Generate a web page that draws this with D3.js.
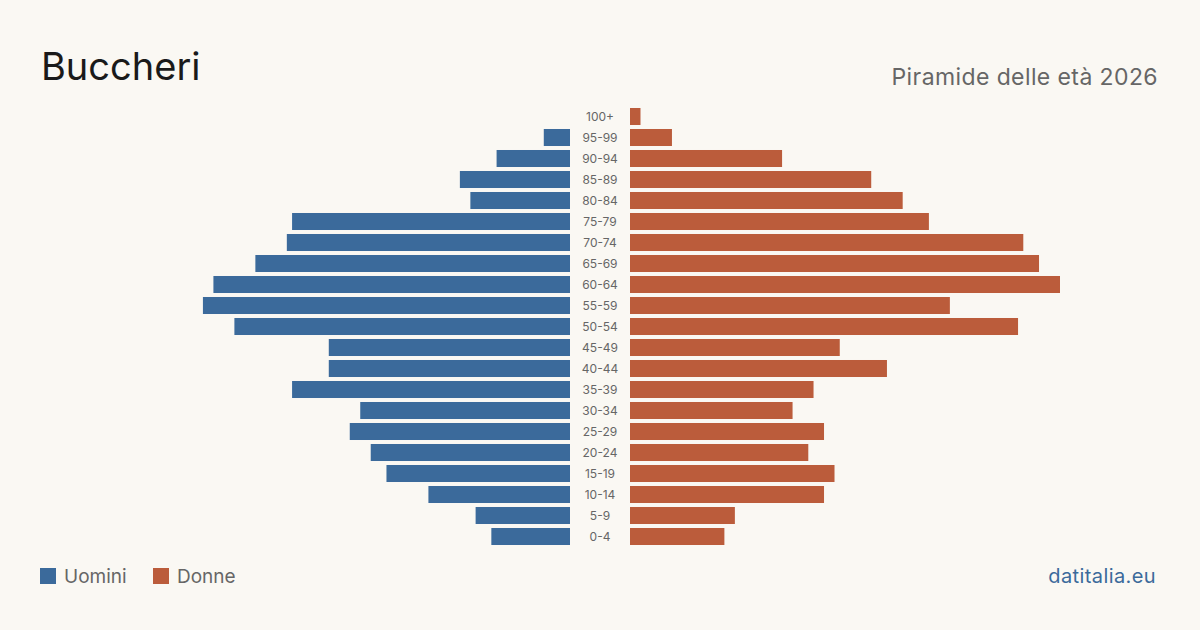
<!DOCTYPE html>
<html>
<head>
<meta charset="utf-8">
<script src="https://cdn.jsdelivr.net/npm/d3@7"></script>
<style>
  body { margin: 0; background: #faf8f3; }
  svg { display: block; font-family: Inter, "Noto Sans", sans-serif; }
</style>
</head>
<body>
<svg id="chart" width="1200" height="630"></svg>
<script>
var ages = ["100+","95-99","90-94","85-89","80-84","75-79","70-74","65-69","60-64","55-59","50-54","45-49","40-44","35-39","30-34","25-29","20-24","15-19","10-14","5-9","0-4"];
var uomini = [0,5,14,21,19,53,54,60,68,70,64,46,46,53,40,42,38,35,27,18,15];
var donne = [2,8,29,46,52,57,75,78,82,61,74,40,49,35,31,37,34,39,37,20,18];

var svg = d3.select("#chart");
svg.append("rect").attr("width", 1200).attr("height", 630).attr("fill", "#faf8f3");

var blue = "#3b6a9b", orange = "#bb5c3b";

var y = d3.scaleBand().domain(ages).range([106, 547]).paddingInner(0.19).paddingOuter(0.095);
var w = d3.scaleLinear().domain([0, 82]).range([0, 430]);

var leftEdge = 570, rightEdge = 630;

svg.selectAll(".m").data(ages).enter().append("rect")
  .attr("class", "m")
  .attr("x", function(d, i) { return leftEdge - w(uomini[i]); })
  .attr("y", function(d) { return y(d); })
  .attr("width", function(d, i) { return w(uomini[i]); })
  .attr("height", y.bandwidth())
  .attr("fill", blue);

svg.selectAll(".f").data(ages).enter().append("rect")
  .attr("class", "f")
  .attr("x", rightEdge)
  .attr("y", function(d) { return y(d); })
  .attr("width", function(d, i) { return w(donne[i]); })
  .attr("height", y.bandwidth())
  .attr("fill", orange);

svg.selectAll(".lab").data(ages).enter().append("text")
  .attr("class", "lab")
  .attr("x", 600)
  .attr("y", function(d) { return y(d) + y.bandwidth() / 2; })
  .attr("dy", "0.35em")
  .attr("text-anchor", "middle")
  .style("font-size", "12px")
  .attr("fill", "#666")
  .text(function(d) { return d; });

svg.append("text").attr("x", 41).attr("y", 80).text("Buccheri")
  .style("font-size", "38px").attr("fill", "#1a1a1a");
svg.append("text").attr("x", 1158).attr("y", 85).attr("text-anchor", "end")
  .text("Piramide delle età 2026").style("font-size", "23px").style("letter-spacing", "0.4px").attr("fill", "#666");

// legenda
svg.append("rect").attr("x", 40).attr("y", 568).attr("width", 16).attr("height", 16).attr("fill", blue);
svg.append("text").attr("x", 64).attr("y", 583).text("Uomini").style("font-size", "19px").attr("fill", "#666");
svg.append("rect").attr("x", 153).attr("y", 568).attr("width", 16).attr("height", 16).attr("fill", orange);
svg.append("text").attr("x", 177).attr("y", 583).text("Donne").style("font-size", "19px").attr("fill", "#666");

svg.append("text").attr("x", 1156).attr("y", 583).attr("text-anchor", "end")
  .text("datitalia.eu").style("font-size", "20px").style("letter-spacing", "0.4px").attr("fill", blue);
</script>
</body>
</html>
